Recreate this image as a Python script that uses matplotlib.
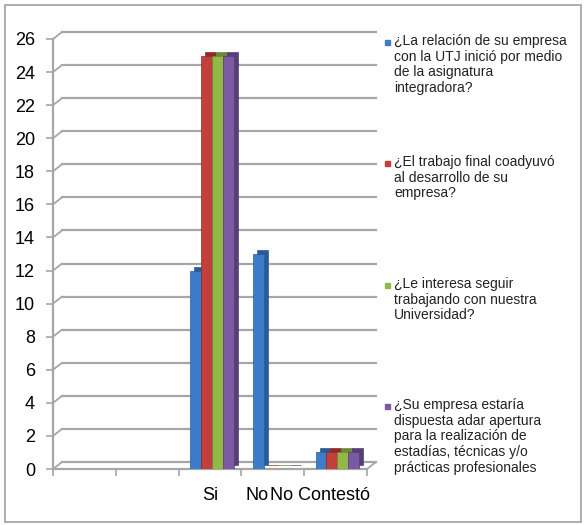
import matplotlib
matplotlib.use("Agg")
import matplotlib.pyplot as plt
import matplotlib.transforms as mtransforms
from matplotlib.patches import Rectangle, ConnectionPatch
from matplotlib.lines import Line2D
import numpy as np

plt.rcParams['font.family'] = ['Liberation Sans', 'DejaVu Sans']

categories = ["", "", "Si", "No", "No Contestó"]
# the first two categories are empty in the original sheet
serie_relacion = [np.nan, np.nan, 12, 13, 1]
serie_trabajo = [np.nan, np.nan, 25, 0, 1]
serie_interes = [np.nan, np.nan, 25, 0, 1]
serie_estadias = [np.nan, np.nan, 25, 0, 1]
labels = [
    "¿La relación de su empresa\ncon la UTJ inició por medio\nde la asignatura\nintegradora?",
    "¿El trabajo final coadyuvó\nal desarrollo de su\nempresa?",
    "¿Le interesa seguir\ntrabajando con nuestra\nUniversidad?",
    "¿Su empresa estaría\ndispuesta adar apertura\npara la realización de\nestadías, técnicas y/o\nprácticas profesionales",
]
yticks = list(range(0, 27, 2))

colors = ['#3D7CCB', '#C23F3B', '#93B848', '#7A5AA2']
dark = ['#2A5A99', '#8E2B28', '#6C8A32', '#563E78']
series = [serie_relacion, serie_trabajo, serie_interes, serie_estadias]

fig = plt.figure(figsize=(5.87, 5.25), dpi=100)
ax = fig.add_axes([53/587, 56/525, 314/587, 430/525])
ax.set_xlim(-0.5, len(categories) - 0.5)
ax.set_ylim(0, 26)
for s in ax.spines.values():
    s.set_visible(False)

# back wall / grid with a bit of perspective
back = mtransforms.offset_copy(ax.transData, fig=fig, x=9, y=7, units='dots')
depth = mtransforms.offset_copy(ax.transData, fig=fig, x=4, y=4, units='dots')
x0, x1 = ax.get_xlim()
gcol = '#A6A6A6'
for t in yticks:
    fig.add_artist(Line2D([x0, x1], [t, t], color=gcol, lw=1.6, transform=back, zorder=0))
    fig.add_artist(ConnectionPatch(xyA=(x0, t), coordsA=ax.transData, xyB=(x0, t), coordsB=back,
                                   color=gcol, lw=1.3, zorder=0))
fig.add_artist(Line2D([x0, x1], [0, 0], color=gcol, lw=1.6, transform=ax.transData, zorder=0))
fig.add_artist(ConnectionPatch(xyA=(x1, 0), coordsA=ax.transData, xyB=(x1, 0), coordsB=back,
                               color=gcol, lw=1.3, zorder=0))
fig.add_artist(Line2D([x0, x0], [0, 26], color=gcol, lw=1.6, transform=ax.transData, zorder=0))
ax.set_zorder(1)
ax.patch.set_alpha(0)

x = np.arange(len(categories))
w = 0.175
for i, vals in enumerate(series):
    pos = x + (i - 1.5) * w + 0.03
    ax.bar(pos, vals, w, color=dark[i], transform=depth, zorder=2 + i * 2, edgecolor=dark[i], lw=0.5)
    ax.bar(pos, vals, w, color=colors[i], zorder=3 + i * 2, edgecolor=dark[i], lw=0.5)

ax.set_yticks(yticks)
ax.tick_params(axis='y', length=5, width=1.2, color=gcol, pad=8, labelsize=13)
ax.set_xticks(x)
ax.set_xticklabels(categories, fontsize=13)
ax.set_xticks(np.arange(len(categories) + 1) - 0.5, minor=True)
ax.tick_params(axis='x', which='major', length=0, pad=13)
ax.tick_params(axis='x', which='minor', length=5, width=1.2, color=gcol)
shifts = [0, 0, 0, -16, -16]
for lab, sh in zip(ax.get_xticklabels(), shifts):
    lab.set_transform(lab.get_transform() + mtransforms.ScaledTranslation(sh / 100, 0, fig.dpi_scale_trans))

# legend on the right
ly = [42, 163, 285, 406]
for i, lab in enumerate(labels):
    fig.patches.append(Rectangle((385/587, (525 - ly[i] - 3)/525), 5/587, 5/525,
                                 transform=fig.transFigure, color=colors[i]))
    fig.text(394/587, (525 - ly[i] + 8)/525, lab, fontsize=10, va='top', ha='left',
             linespacing=1.15, color='#222222')

fig.patches.append(Rectangle((5/587, 3/525), 576/587, 517/525, transform=fig.transFigure,
                             fill=False, edgecolor='#A0A0A0', lw=1.2))

fig.savefig('out.png', dpi=100)
